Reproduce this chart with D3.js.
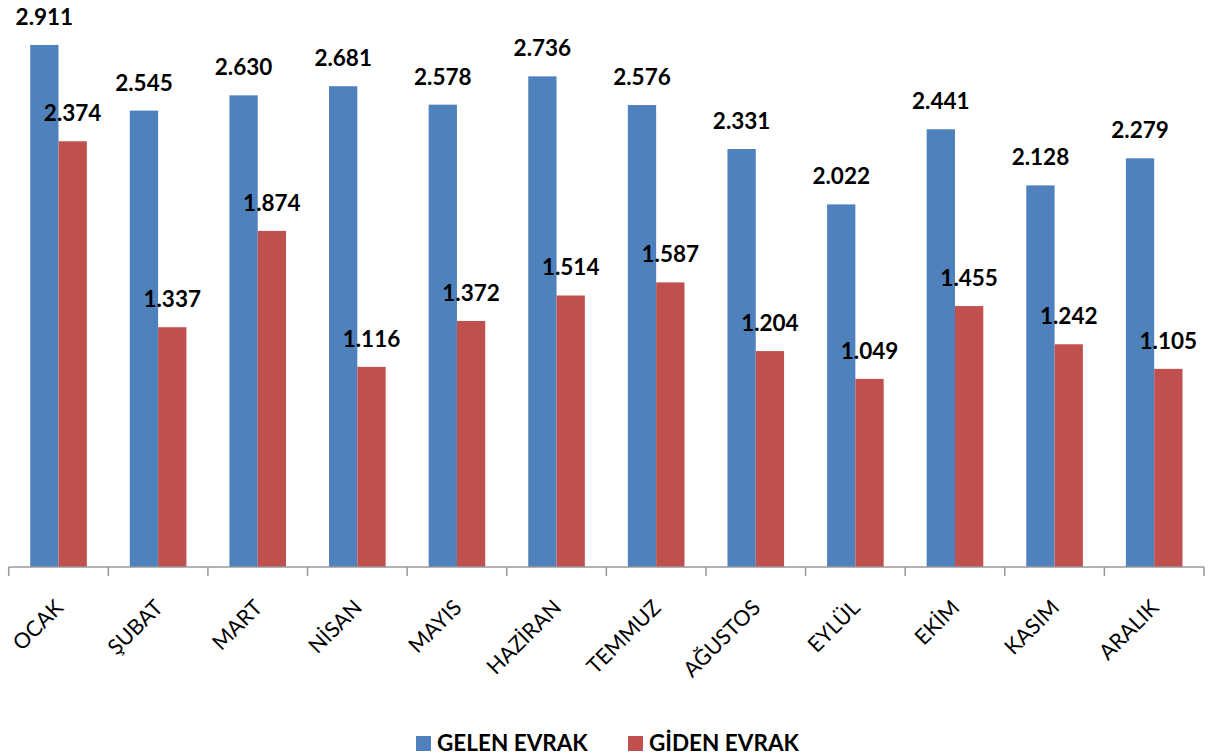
<!DOCTYPE html>
<html><head><meta charset="utf-8">
<script src="https://cdn.jsdelivr.net/npm/d3@7"></script>
<style>body{margin:0;background:#fff}svg{display:block}</style>
</head><body>
<svg id="c" width="1208" height="755"></svg>
<script>
const categories = ["OCAK","ŞUBAT","MART","NİSAN","MAYIS","HAZİRAN","TEMMUZ","AĞUSTOS","EYLÜL","EKİM","KASIM","ARALIK"];
const seriesNames = ["GELEN EVRAK","GİDEN EVRAK"];
const gelen = [2911,2545,2630,2681,2578,2736,2576,2331,2022,2441,2128,2279];
const giden = [2374,1337,1874,1116,1372,1514,1587,1204,1049,1455,1242,1105];
const colors = ["#4F81BD","#C0504D"];

const svg = d3.select("#c");
const font = "Lato, 'Open Sans', sans-serif";
const x0 = d3.scaleBand().domain(categories).range([8.7,1204]).padding(0);
const bw = x0.bandwidth();
const x1 = d3.scaleBand().domain(seriesNames).range([21.5, bw-21.5]).padding(0);
const y = d3.scaleLinear().domain([0,3000]).range([567,29]);
const fmt = v => d3.format(",")(v).replace(/,/g,".");

const data = categories.map((c,i)=>({c, vals:[gelen[i],giden[i]]}));
const g = svg.append("g");
const grp = g.selectAll("g.cat").data(data).enter().append("g")
  .attr("transform", d=>`translate(${x0(d.c)},0)`);
grp.selectAll("rect").data(d=>d.vals.map((v,k)=>({k,v}))).enter().append("rect")
  .attr("x", d=>x1(seriesNames[d.k]))
  .attr("width", x1.bandwidth())
  .attr("y", d=>y(d.v))
  .attr("height", d=>y(0)-y(d.v))
  .attr("fill", d=>colors[d.k]);
grp.selectAll("text").data(d=>d.vals.map((v,k)=>({k,v}))).enter().append("text")
  .attr("x", d=>x1(seriesNames[d.k])+x1.bandwidth()/2)
  .attr("y", d=>y(d.v)-20)
  .attr("text-anchor","middle")
  .attr("font-family",font).attr("font-weight","bold").attr("font-size",22.5)
  .attr("fill","#000")
  .text(d=>fmt(d.v));

// axis
const axis = d3.axisBottom(x0).tickSize(0).tickFormat("");
const ag = svg.append("g").attr("transform","translate(0,567)").call(axis);
ag.select(".domain").attr("stroke","#989898").attr("stroke-width",1.5).attr("d","M8.7,0H1204");
const tickPos = categories.map(c=>x0(c)).concat([x0.range()[1]]);
ag.selectAll("line.tk").data(tickPos).enter().append("line").attr("class","tk")
  .attr("x1",d=>d).attr("x2",d=>d).attr("y1",0).attr("y2",9)
  .attr("stroke","#989898").attr("stroke-width",1.5);
svg.append("g").selectAll("text").data(categories).enter().append("text")
  .attr("transform", d=>`translate(${x0(d)+bw/2+6},609) rotate(-45)`)
  .attr("text-anchor","end")
  .attr("font-family",font).attr("font-size",21.5).attr("fill","#000")
  .text(d=>d);

// legend
const leg = svg.append("g");
const lx = [416, 628];
seriesNames.forEach((s,i)=>{
  leg.append("rect").attr("x",lx[i]).attr("y",736).attr("width",15).attr("height",15).attr("fill",colors[i]);
  leg.append("text").attr("x",lx[i]+21).attr("y",751)
    .attr("font-family",font).attr("font-weight","bold").attr("font-size",22.5).attr("fill","#000")
    .text(s);
});
</script>
</body></html>
